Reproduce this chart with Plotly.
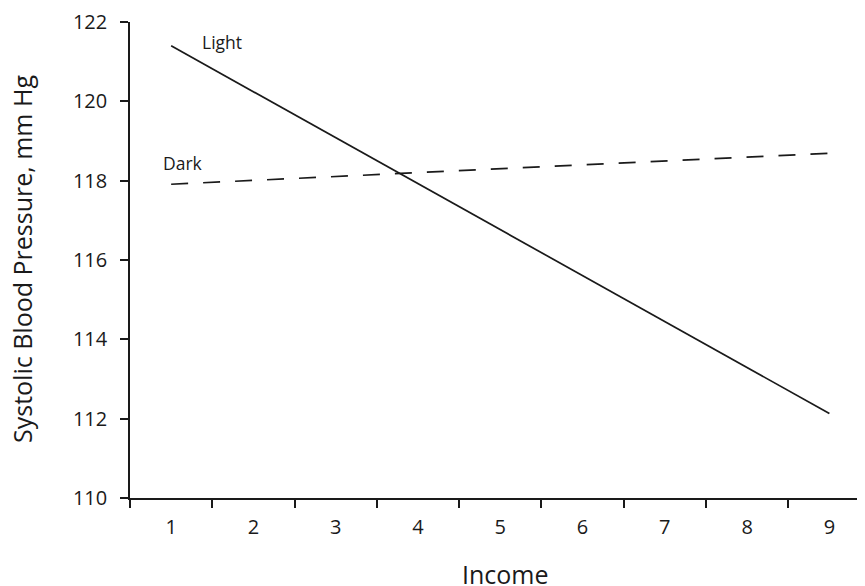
import plotly.graph_objects as go

categories = ["1", "2", "3", "4", "5", "6", "7", "8", "9"]
income_ends = ["1", "9"]
light_values = [121.40, 112.13]
dark_values = [117.91, 118.69]
y_ticks = [110, 112, 114, 116, 118, 120, 122]

FONT = "Open Sans"
INK = "#1a1a1a"

fig = go.Figure()
fig.add_trace(go.Scatter(x=income_ends, y=light_values, mode="lines",
                         line=dict(color=INK, width=1.7), name="Light"))
fig.add_trace(go.Scatter(x=income_ends, y=dark_values, mode="lines",
                         line=dict(color=INK, width=1.7, dash="17px,15px"), name="Dark"))

fig.add_annotation(x=0.618, y=121.50, xref="x", yref="y", text="Light", showarrow=False,
                   font=dict(family=FONT, size=17.5, color=INK))
fig.add_annotation(x=0.144, y=118.44, xref="x", yref="y", text="Dark", showarrow=False,
                   font=dict(family=FONT, size=17.5, color=INK))

fig.add_annotation(x=0.5, y=0, xref="paper", yref="paper", xshift=4, yshift=-76, text="Income",
                   showarrow=False, xanchor="center", yanchor="middle",
                   font=dict(family=FONT, size=25, color=INK))
fig.add_annotation(x=0, y=0.5, xref="paper", yref="paper", xshift=-108, yshift=1,
                   text="Systolic Blood Pressure, mm Hg",
                   showarrow=False, textangle=-90, xanchor="center", yanchor="middle",
                   font=dict(family=FONT, size=25, color=INK))

fig.update_layout(
    width=865, height=586,
    margin=dict(l=122, r=0, t=12, b=96),
    plot_bgcolor="white", paper_bgcolor="white",
    showlegend=False,
    font=dict(family=FONT, size=20, color=INK),
    xaxis=dict(type="category", categoryorder="array", categoryarray=categories,
               range=[-0.5, 8.53], tickson="boundaries", ticks="outside", ticklen=8,
               tickwidth=1.5, tickcolor=INK, showline=True, linecolor=INK,
               linewidth=1.5, showgrid=False, zeroline=False, ticklabelstandoff=10,
               ticklabeloverflow="allow"),
    yaxis=dict(range=[110, 122], tickvals=y_ticks, ticks="outside", ticklen=8,
               tickwidth=1.5, tickcolor=INK, showline=True, linecolor=INK,
               linewidth=1.5, showgrid=False, zeroline=False, ticklabelstandoff=9,
               ticklabeloverflow="allow"),
)

fig.write_html("out.html")
